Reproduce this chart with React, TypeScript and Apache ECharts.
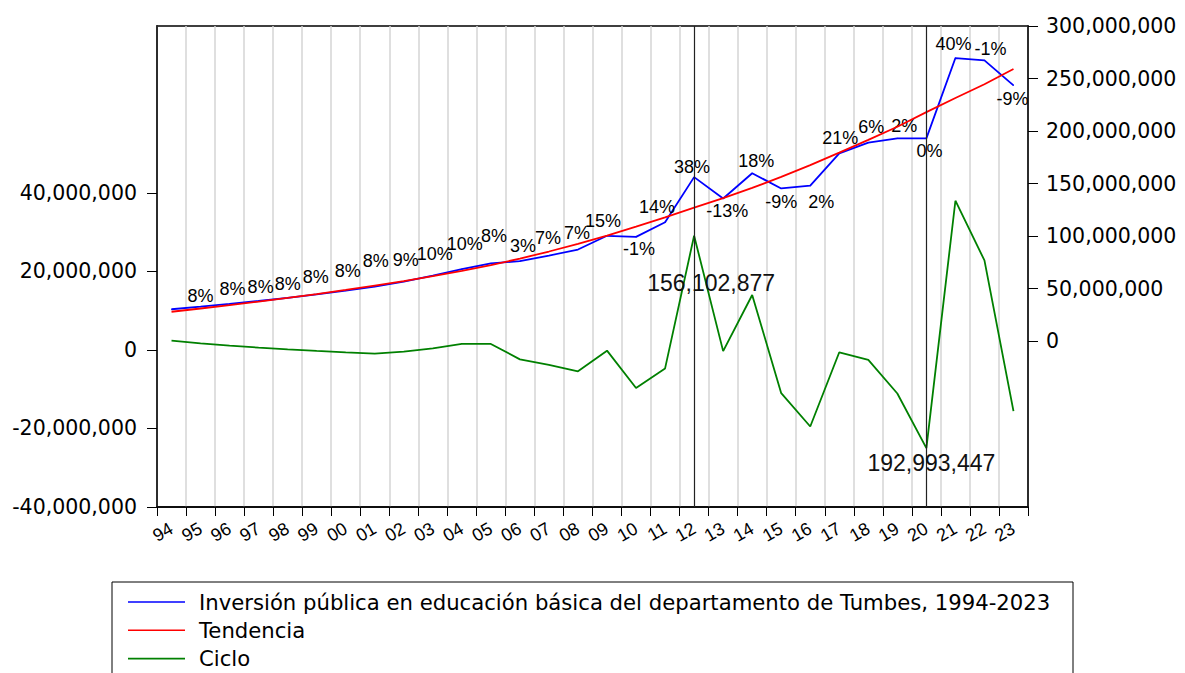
import React, { useEffect, useRef } from 'react';
import * as echarts from 'echarts';

const years = ['94', '95', '96', '97', '98', '99', '00', '01', '02', '03', '04', '05', '06', '07', '08', '09', '10', '11', '12', '13', '14', '15', '16', '17', '18', '19', '20', '21', '22', '23'];

const inversion = [30280000, 32700000, 35320000, 38140000, 41190000, 44490000, 48050000, 51890000, 56560000, 62220000, 68440000, 73910000, 76130000, 81460000, 87160000, 100230000, 99230000, 113120000, 156102877, 135800000, 159800000, 145300000, 148000000, 178800000, 189000000, 193000000, 192993447, 269500000, 267300000, 243500000];

const tendencia = [27910000, 31020000, 34220000, 37550000, 41040000, 44740000, 48660000, 52830000, 56990000, 61810000, 66910000, 72380000, 78530000, 85280000, 92610000, 100410000, 108930000, 117820000, 127000000, 136100000, 145800000, 156300000, 167500000, 179400000, 191550000, 204100000, 218000000, 231500000, 244500000, 259100000];

const ciclo = [2370000, 1680000, 1100000, 590000, 150000, -250000, -610000, -940000, -430000, 410000, 1530000, 1530000, -2400000, -3820000, -5450000, -180000, -9700000, -4700000, 29100000, -300000, 14000000, -11000000, -19500000, -600000, -2550000, -11100000, -25000000, 38000000, 22800000, -15600000];

const growthLabels = ['', '8%', '8%', '8%', '8%', '8%', '8%', '8%', '9%', '10%', '10%', '8%', '3%', '7%', '7%', '15%', '-1%', '14%', '38%', '-13%', '18%', '-9%', '2%', '21%', '6%', '2%', '0%', '40%', '-1%', '-9%'];

// label placement (pixels relative to point)
const labelDx = [0, 0, 3, 2, 0, -1, 2, 1, 2, 2, 3, 3, 3, -1, -1, -4, 3, -8, -2, 4, 4, 0, 11, 1, 3, 7, 3, -2, 6, -1];
const labelDy = [0, -11, -15, -14, -14, -17, -20, -26, -22, -22, -25, -27, -15, -18, -17, -15, 12, -15, -10, 13, -12, 14, 16, -15, -16, -12, 13, -14, -11, 14];

const leftTicks = [-40000000, -20000000, 0, 20000000, 40000000];
const rightTicks = [0, 50000000, 100000000, 150000000, 200000000, 250000000, 300000000];

const markedYears = ['12', '20'];
const annotDx = [17, 5];
const annotDy = [106, 325];

const seriesNames = ['Inversión pública en educación básica del departamento de Tumbes, 1994-2023', 'Tendencia', 'Ciclo'];

const FONT = '"Liberation Sans", Arial, Helvetica, sans-serif';
const WIDE = '"DejaVu Sans", Verdana, sans-serif';

function fmt(v: number): string {
  const s = String(Math.round(Math.abs(v))).replace(/\B(?=(\d{3})+(?!\d))/g, ',');
  return (v < 0 ? '-' : '') + s;
}

export default function App() {
  const ref = useRef<HTMLDivElement>(null);
  useEffect(() => {
    const chart = echarts.init(ref.current!, null, { renderer: 'svg' });
    const option: any = {
      animation: false,
      backgroundColor: '#ffffff',
      textStyle: { fontFamily: FONT },
      grid: {
        left: 157,
        right: 157,
        top: 26,
        bottom: 166,
        show: true,
        borderColor: '#000',
        borderWidth: 1.5,
        outerBoundsMode: 'none',
      },
      legend: {
        orient: 'vertical',
        left: 128,
        top: 591,
        padding: 0,
        itemGap: 6.3,
        itemWidth: 57,
        itemHeight: 1.6,
        icon: 'rect',
        data: seriesNames,
        textStyle: { fontFamily: WIDE, fontSize: 21.2, color: '#000', lineHeight: 22, padding: [0, 0, 0, 9] },
      },
      graphic: [
        {
          type: 'rect',
          shape: { x: 112, y: 582, width: 961, height: 120 },
          style: { fill: 'none', stroke: '#000', lineWidth: 1 },
          silent: true,
        },
      ],
      xAxis: {
        type: 'category',
        data: years,
        boundaryGap: true,
        axisLine: { onZero: false, lineStyle: { color: '#000', width: 1.5 } },
        axisTick: { show: true, length: 9, alignWithLabel: false, interval: 0, lineStyle: { color: '#000', width: 1 } },
        axisLabel: { interval: 0, rotate: 30, margin: 20, fontSize: 18, color: '#000', fontFamily: FONT },
        splitLine: { show: true, interval: 0, lineStyle: { color: '#d4d4d4', width: 1.5 } },
      },
      yAxis: [
        {
          type: 'value',
          position: 'left',
          min: -40000000,
          max: 82500000,
          axisLine: { show: true, lineStyle: { color: '#000', width: 1.5 } },
          axisTick: { show: true, length: 10, customValues: leftTicks, lineStyle: { color: '#000', width: 1 } },
          axisLabel: { customValues: leftTicks, formatter: (v: number) => fmt(v), fontSize: 20.5, color: '#000', margin: 20, fontFamily: WIDE },
          splitLine: { show: false },
        },
        {
          type: 'value',
          position: 'right',
          min: -158000000,
          max: 300000000,
          axisLine: { show: true, lineStyle: { color: '#000', width: 1.5 } },
          axisTick: { show: true, length: 10, customValues: rightTicks, lineStyle: { color: '#000', width: 1 } },
          axisLabel: { customValues: rightTicks, formatter: (v: number) => fmt(v), fontSize: 20.5, color: '#000', margin: 18, fontFamily: WIDE },
          splitLine: { show: false },
        },
      ],
      series: [
        {
          name: seriesNames[0],
          type: 'line',
          yAxisIndex: 1,
          data: inversion.map((v, i) => ({
            value: v,
            label: {
              show: growthLabels[i] !== '',
              formatter: growthLabels[i],
              position: 'inside',
              offset: [labelDx[i], labelDy[i]],
              fontSize: 18,
              color: '#000',
              fontFamily: FONT,
            },
          })),
          showSymbol: true,
          symbol: 'circle',
          symbolSize: 1,
          itemStyle: { color: '#0000ff' },
          lineStyle: { color: '#0000ff', width: 1.8 },
          color: '#0000ff',
          z: 3,
          markLine: {
            silent: true,
            symbol: ['none', 'none'],
            label: { show: false },
            lineStyle: { color: '#222', width: 1.2, type: 'solid' },
            data: markedYears.map((y) => ({ xAxis: y })),
          },
          markPoint: {
            symbol: 'circle',
            symbolSize: 1,
            itemStyle: { color: 'rgba(0,0,0,0)' },
            data: markedYears.map((y, k) => {
              const idx = years.indexOf(y);
              return {
                coord: [y, inversion[idx]],
                value: inversion[idx],
                label: {
                  show: true,
                  position: 'inside',
                  offset: [annotDx[k], annotDy[k]],
                  formatter: fmt(inversion[idx]),
                  fontSize: 23,
                  color: '#111',
                  fontFamily: FONT,
                },
              };
            }),
          },
        },
        {
          name: seriesNames[1],
          type: 'line',
          yAxisIndex: 1,
          data: tendencia,
          showSymbol: false,
          color: '#ff0000',
          lineStyle: { color: '#ff0000', width: 1.8 },
          z: 4,
        },
        {
          name: seriesNames[2],
          type: 'line',
          yAxisIndex: 0,
          data: ciclo,
          showSymbol: false,
          color: '#008000',
          lineStyle: { color: '#008000', width: 1.8 },
          z: 2,
        },
      ],
    };
    chart.setOption(option);
    return () => chart.dispose();
  }, []);
  return (
    <div
      ref={ref}
      style={{ position: 'fixed', left: 0, top: 0, width: 1185, height: 673, background: '#fff' }}
    />
  );
}
